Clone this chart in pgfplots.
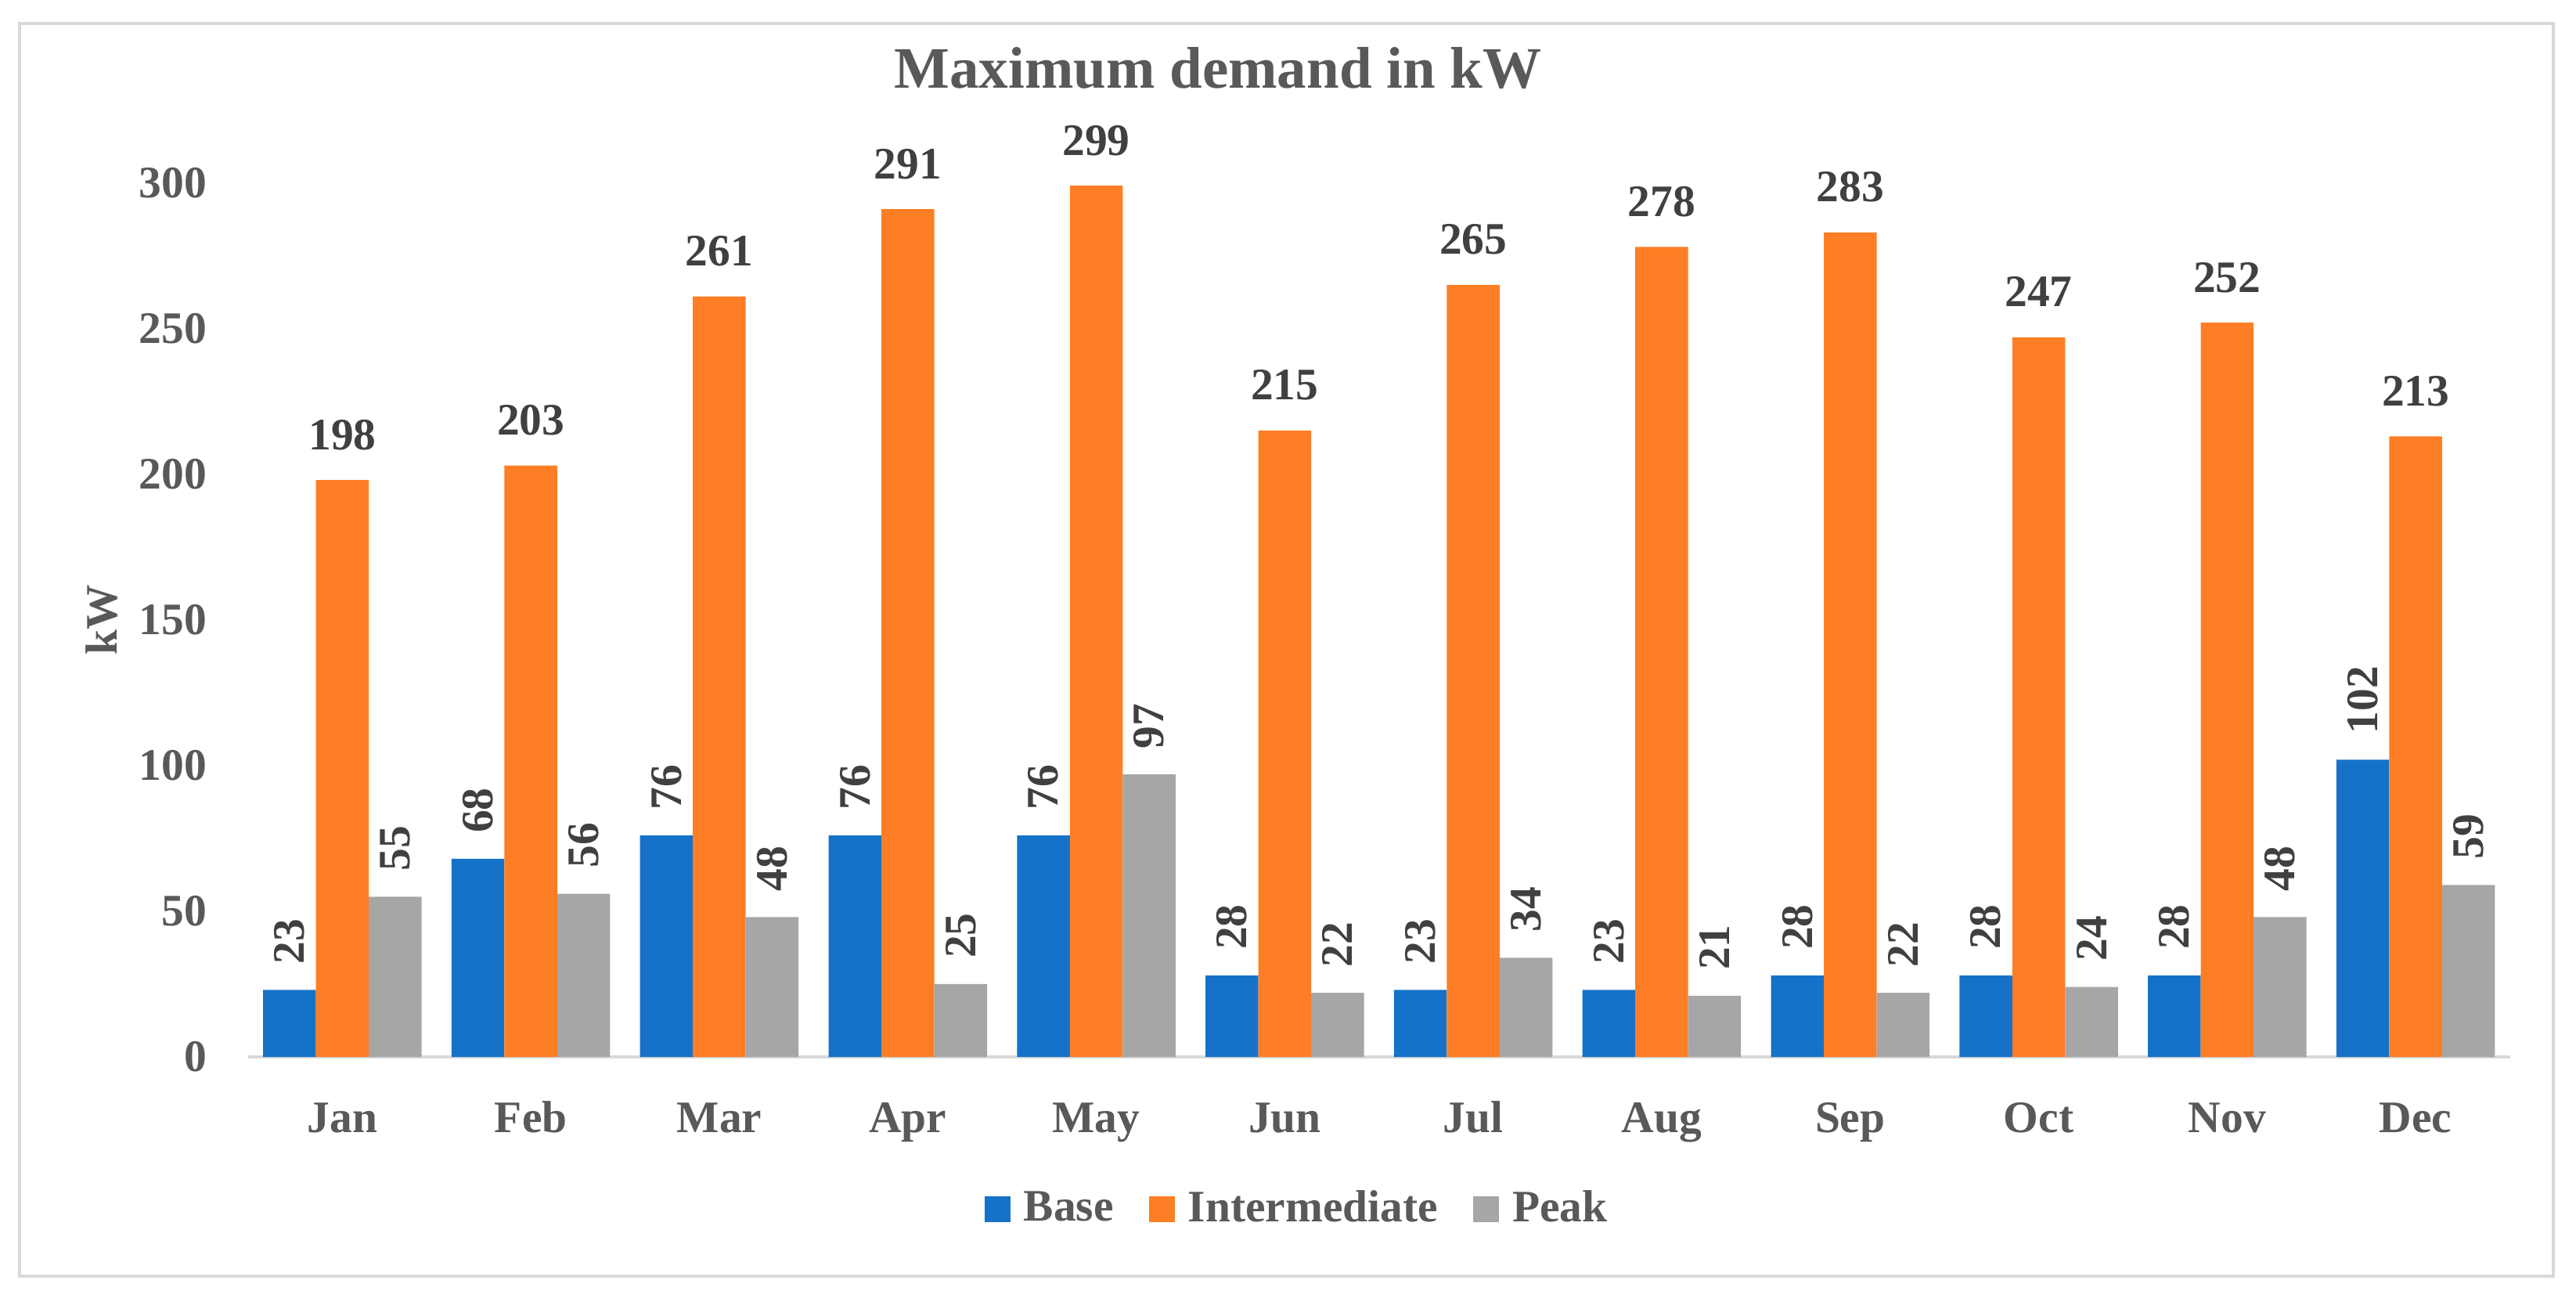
\documentclass[border=0pt]{standalone}
\usepackage{fontspec}
\setmainfont{Liberation Serif}
\usepackage{pgfplots}
\usepackage{pgfplotstable}
\pgfplotsset{compat=1.18}

\definecolor{cbase}{RGB}{21,114,200}
\definecolor{cinter}{RGB}{253,126,36}
\definecolor{cpeak}{RGB}{166,166,166}
\definecolor{txt}{RGB}{89,89,89}
\definecolor{lbl}{RGB}{64,64,64}
\definecolor{rule}{RGB}{217,217,217}

% month index, then one column per series (kW)
\pgfplotstableread{
x base inter peak
0 23 198 55
1 68 203 56
2 76 261 48
3 76 291 25
4 76 299 97
5 28 215 22
6 23 265 34
7 23 278 21
8 28 283 22
9 28 247 24
10 28 252 48
11 102 213 59
}\demand

\begin{document}
\begin{tikzpicture}
\useasboundingbox (0,0) rectangle (658.2pt,332.4pt);
\fill[white] (0,0) rectangle (658.2pt,332.4pt);
\draw[rule, line width=0.9pt] (5pt,6.4pt) rectangle (652.4pt,326.4pt);

\begin{axis}[
    at={(63.4pt,62.4pt)}, anchor=south west,
    scale only axis,
    width=577.9pt, height=223.3pt,
    ybar=0pt, bar width=13.5pt,
    xmin=-0.5, xmax=11.5,
    ymin=0, ymax=300,
    xtick={0,...,11},
    xticklabels={Jan,Feb,Mar,Apr,May,Jun,Jul,Aug,Sep,Oct,Nov,Dec},
    ytick={0,50,...,300},
    axis x line*=bottom, axis y line*=left,
    y axis line style={draw=none},
    x axis line style={-, draw=rule, line width=0.8pt},
    major tick length=0pt,
    clip=false,
    tick label style={font=\bfseries\fontsize{11.5}{13}\selectfont, text=txt,
        /pgf/number format/assume math mode=true},
    yticklabel style={anchor=east, inner sep=0pt, xshift=-10.4pt},
    xticklabel style={anchor=base, inner sep=0pt, yshift=-19.2pt},
    ylabel={kW},
    every axis y label/.style={at={(axis description cs:-0.0647,0.5)},
        rotate=90, anchor=center, font=\bfseries\fontsize{11.5}{13}\selectfont, text=txt},
    nodes near coords={\pgfmathprintnumber[assume math mode=true]{\pgfplotspointmeta}},
    nodes near coords style={font=\bfseries\fontsize{11.5}{13}\selectfont, text=lbl, inner sep=0pt},
    legend style={at={(axis description cs:0.465,-0.1738)}, anchor=center,
        draw=none, fill=none, legend columns=3,
        font=\bfseries\fontsize{11.5}{13}\selectfont, text=txt,
        /tikz/every even column/.append style={column sep=7pt}},
    legend image code/.code={\fill[#1] (0pt,-3.3pt) rectangle (6.6pt,3.3pt); \path (8pt,0pt);},
]
\addplot[fill=cbase, draw=none,
    every node near coord/.append style={yshift=6.4pt, rotate=90, anchor=west}]
    table[x=x, y=base] {\demand};
\addplot[fill=cinter, draw=none,
    every node near coord/.append style={anchor=base, yshift=7.8pt}]
    table[x=x, y=inter] {\demand};
\addplot[fill=cpeak, draw=none,
    every node near coord/.append style={yshift=6.4pt, rotate=90, anchor=west}]
    table[x=x, y=peak] {\demand};
\legend{Base,Intermediate,Peak}
\end{axis}

\node[anchor=base, font=\bfseries\fontsize{15}{17}\selectfont, text=txt]
    at (311.2pt,309.8pt) {Maximum demand in kW};
\end{tikzpicture}
\end{document}
